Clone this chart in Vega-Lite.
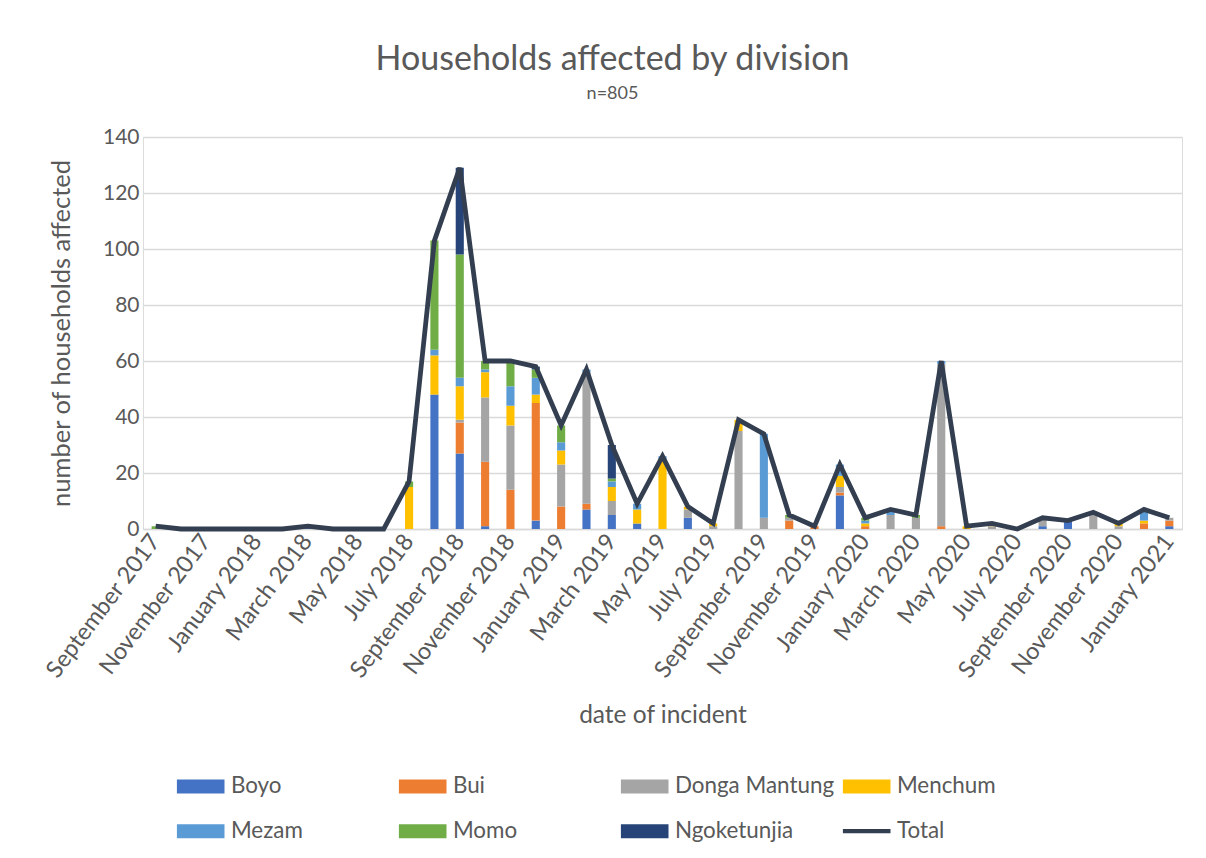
{
  "$schema": "https://vega.github.io/schema/vega-lite/v6.json",
  "width": 1039,
  "height": 392,
  "autosize": {"type": "none"},
  "padding": {"left": 143, "top": 137, "right": 24, "bottom": 329},
  "background": "white",
  "title": {
    "text": "Households affected by division",
    "subtitle": "n=805",
    "anchor": "middle",
    "dx": -50,
    "offset": 23,
    "font": "Lato",
    "fontSize": 34,
    "fontWeight": "normal",
    "color": "#595959",
    "subtitleFont": "Lato",
    "subtitleFontSize": 18,
    "subtitleColor": "#595959",
    "subtitlePadding": 8
  },
  "datasets": {
    "bars": [
      {"month": "September 2017", "division": "Momo", "value": 1},
      {"month": "March 2018", "division": "Boyo", "value": 1},
      {"month": "July 2018", "division": "Menchum", "value": 15},
      {"month": "July 2018", "division": "Momo", "value": 2},
      {"month": "August 2018", "division": "Boyo", "value": 48},
      {"month": "August 2018", "division": "Menchum", "value": 14},
      {"month": "August 2018", "division": "Mezam", "value": 2},
      {"month": "August 2018", "division": "Momo", "value": 39},
      {"month": "September 2018", "division": "Boyo", "value": 27},
      {"month": "September 2018", "division": "Bui", "value": 11},
      {"month": "September 2018", "division": "Donga Mantung", "value": 1},
      {"month": "September 2018", "division": "Menchum", "value": 12},
      {"month": "September 2018", "division": "Mezam", "value": 3},
      {"month": "September 2018", "division": "Momo", "value": 44},
      {"month": "September 2018", "division": "Ngoketunjia", "value": 31},
      {"month": "October 2018", "division": "Boyo", "value": 1},
      {"month": "October 2018", "division": "Bui", "value": 23},
      {"month": "October 2018", "division": "Donga Mantung", "value": 23},
      {"month": "October 2018", "division": "Menchum", "value": 9},
      {"month": "October 2018", "division": "Mezam", "value": 1},
      {"month": "October 2018", "division": "Momo", "value": 3},
      {"month": "November 2018", "division": "Bui", "value": 14},
      {"month": "November 2018", "division": "Donga Mantung", "value": 23},
      {"month": "November 2018", "division": "Menchum", "value": 7},
      {"month": "November 2018", "division": "Mezam", "value": 7},
      {"month": "November 2018", "division": "Momo", "value": 9},
      {"month": "December 2018", "division": "Boyo", "value": 3},
      {"month": "December 2018", "division": "Bui", "value": 42},
      {"month": "December 2018", "division": "Menchum", "value": 3},
      {"month": "December 2018", "division": "Mezam", "value": 6},
      {"month": "December 2018", "division": "Momo", "value": 3},
      {"month": "December 2018", "division": "Ngoketunjia", "value": 1},
      {"month": "January 2019", "division": "Bui", "value": 8},
      {"month": "January 2019", "division": "Donga Mantung", "value": 15},
      {"month": "January 2019", "division": "Menchum", "value": 5},
      {"month": "January 2019", "division": "Mezam", "value": 3},
      {"month": "January 2019", "division": "Momo", "value": 6},
      {"month": "February 2019", "division": "Boyo", "value": 7},
      {"month": "February 2019", "division": "Bui", "value": 2},
      {"month": "February 2019", "division": "Donga Mantung", "value": 47},
      {"month": "February 2019", "division": "Mezam", "value": 1},
      {"month": "March 2019", "division": "Boyo", "value": 5},
      {"month": "March 2019", "division": "Donga Mantung", "value": 5},
      {"month": "March 2019", "division": "Menchum", "value": 5},
      {"month": "March 2019", "division": "Mezam", "value": 2},
      {"month": "March 2019", "division": "Momo", "value": 1},
      {"month": "March 2019", "division": "Ngoketunjia", "value": 12},
      {"month": "April 2019", "division": "Boyo", "value": 2},
      {"month": "April 2019", "division": "Menchum", "value": 5},
      {"month": "April 2019", "division": "Mezam", "value": 2},
      {"month": "May 2019", "division": "Menchum", "value": 25},
      {"month": "May 2019", "division": "Mezam", "value": 1},
      {"month": "June 2019", "division": "Boyo", "value": 4},
      {"month": "June 2019", "division": "Donga Mantung", "value": 3},
      {"month": "June 2019", "division": "Menchum", "value": 1},
      {"month": "July 2019", "division": "Donga Mantung", "value": 1},
      {"month": "July 2019", "division": "Menchum", "value": 1},
      {"month": "August 2019", "division": "Donga Mantung", "value": 35},
      {"month": "August 2019", "division": "Menchum", "value": 4},
      {"month": "September 2019", "division": "Donga Mantung", "value": 4},
      {"month": "September 2019", "division": "Mezam", "value": 30},
      {"month": "October 2019", "division": "Bui", "value": 3},
      {"month": "October 2019", "division": "Donga Mantung", "value": 1},
      {"month": "October 2019", "division": "Momo", "value": 1},
      {"month": "November 2019", "division": "Bui", "value": 1},
      {"month": "December 2019", "division": "Boyo", "value": 12},
      {"month": "December 2019", "division": "Bui", "value": 1},
      {"month": "December 2019", "division": "Donga Mantung", "value": 2},
      {"month": "December 2019", "division": "Menchum", "value": 4},
      {"month": "December 2019", "division": "Mezam", "value": 4},
      {"month": "January 2020", "division": "Bui", "value": 1},
      {"month": "January 2020", "division": "Menchum", "value": 1},
      {"month": "January 2020", "division": "Mezam", "value": 1},
      {"month": "January 2020", "division": "Momo", "value": 1},
      {"month": "February 2020", "division": "Donga Mantung", "value": 5},
      {"month": "February 2020", "division": "Mezam", "value": 2},
      {"month": "March 2020", "division": "Donga Mantung", "value": 4},
      {"month": "March 2020", "division": "Momo", "value": 1},
      {"month": "April 2020", "division": "Bui", "value": 1},
      {"month": "April 2020", "division": "Donga Mantung", "value": 58},
      {"month": "April 2020", "division": "Mezam", "value": 1},
      {"month": "May 2020", "division": "Menchum", "value": 1},
      {"month": "June 2020", "division": "Donga Mantung", "value": 1},
      {"month": "June 2020", "division": "Menchum", "value": 1},
      {"month": "August 2020", "division": "Boyo", "value": 1},
      {"month": "August 2020", "division": "Donga Mantung", "value": 3},
      {"month": "September 2020", "division": "Boyo", "value": 3},
      {"month": "October 2020", "division": "Donga Mantung", "value": 6},
      {"month": "November 2020", "division": "Donga Mantung", "value": 1},
      {"month": "November 2020", "division": "Menchum", "value": 1},
      {"month": "December 2020", "division": "Bui", "value": 2},
      {"month": "December 2020", "division": "Menchum", "value": 1},
      {"month": "December 2020", "division": "Mezam", "value": 4},
      {"month": "January 2021", "division": "Boyo", "value": 1},
      {"month": "January 2021", "division": "Bui", "value": 2},
      {"month": "January 2021", "division": "Donga Mantung", "value": 1}
    ],
    "totals": [
      {"month": "September 2017", "total": 1},
      {"month": "October 2017", "total": 0},
      {"month": "November 2017", "total": 0},
      {"month": "December 2017", "total": 0},
      {"month": "January 2018", "total": 0},
      {"month": "February 2018", "total": 0},
      {"month": "March 2018", "total": 1},
      {"month": "April 2018", "total": 0},
      {"month": "May 2018", "total": 0},
      {"month": "June 2018", "total": 0},
      {"month": "July 2018", "total": 17},
      {"month": "August 2018", "total": 103},
      {"month": "September 2018", "total": 129},
      {"month": "October 2018", "total": 60},
      {"month": "November 2018", "total": 60},
      {"month": "December 2018", "total": 58},
      {"month": "January 2019", "total": 37},
      {"month": "February 2019", "total": 57},
      {"month": "March 2019", "total": 30},
      {"month": "April 2019", "total": 9},
      {"month": "May 2019", "total": 26},
      {"month": "June 2019", "total": 8},
      {"month": "July 2019", "total": 2},
      {"month": "August 2019", "total": 39},
      {"month": "September 2019", "total": 34},
      {"month": "October 2019", "total": 5},
      {"month": "November 2019", "total": 1},
      {"month": "December 2019", "total": 23},
      {"month": "January 2020", "total": 4},
      {"month": "February 2020", "total": 7},
      {"month": "March 2020", "total": 5},
      {"month": "April 2020", "total": 60},
      {"month": "May 2020", "total": 1},
      {"month": "June 2020", "total": 2},
      {"month": "July 2020", "total": 0},
      {"month": "August 2020", "total": 4},
      {"month": "September 2020", "total": 3},
      {"month": "October 2020", "total": 6},
      {"month": "November 2020", "total": 2},
      {"month": "December 2020", "total": 7},
      {"month": "January 2021", "total": 4}
    ]
  },
  "encoding": {
    "x": {
      "field": "month",
      "type": "ordinal",
      "title": "date of incident",
      "scale": {
        "domain": ["September 2017", "October 2017", "November 2017", "December 2017", "January 2018", "February 2018", "March 2018", "April 2018", "May 2018", "June 2018", "July 2018", "August 2018", "September 2018", "October 2018", "November 2018", "December 2018", "January 2019", "February 2019", "March 2019", "April 2019", "May 2019", "June 2019", "July 2019", "August 2019", "September 2019", "October 2019", "November 2019", "December 2019", "January 2020", "February 2020", "March 2020", "April 2020", "May 2020", "June 2020", "July 2020", "August 2020", "September 2020", "October 2020", "November 2020", "December 2020", "January 2021"],
        "paddingInner": 0.68,
        "paddingOuter": 0.34
      },
      "axis": {
        "values": ["September 2017", "November 2017", "January 2018", "March 2018", "May 2018", "July 2018", "September 2018", "November 2018", "January 2019", "March 2019", "May 2019", "July 2019", "September 2019", "November 2019", "January 2020", "March 2020", "May 2020", "July 2020", "September 2020", "November 2020", "January 2021"],
        "labelAngle": -53,
        "labelFont": "Lato",
        "labelFontSize": 23.5,
        "labelLimit": 400,
        "labelColor": "#595959",
        "labelPadding": 8,
        "ticks": false,
        "domain": true,
        "domainColor": "#D9D9D9",
        "domainWidth": 1.5,
        "grid": false,
        "titleFont": "Lato",
        "titleFontSize": 24.5,
        "titleFontWeight": "normal",
        "titleColor": "#595959",
        "titlePadding": 22
      }
    }
  },
  "layer": [
    {
      "data": {"name": "bars"},
      "mark": {"type": "bar"},
      "encoding": {
        "y": {
          "field": "value",
          "type": "quantitative",
          "aggregate": "sum",
          "stack": "zero",
          "title": "number of households affected",
          "scale": {"domain": [0, 140]},
          "axis": {
            "values": [0, 20, 40, 60, 80, 100, 120, 140],
            "grid": true,
            "gridColor": "#D9D9D9",
            "gridWidth": 1.5,
            "domain": false,
            "ticks": false,
            "labelFont": "Lato",
            "labelFontSize": 21,
            "labelColor": "#595959",
            "labelPadding": 4,
            "titleFont": "Lato",
            "titleFontSize": 25.5,
            "titleFontWeight": "normal",
            "titleColor": "#595959",
            "titlePadding": 28
          }
        },
        "color": {
          "field": "division",
          "type": "nominal",
          "scale": {
            "domain": ["Boyo", "Bui", "Donga Mantung", "Menchum", "Mezam", "Momo", "Ngoketunjia", "Total"],
            "range": ["#4472C4", "#ED7D31", "#A5A5A5", "#FFC000", "#5B9BD5", "#70AD47", "#264478", "#333F50"]
          },
          "legend": {
            "title": null,
            "orient": "none",
            "legendX": 31,
            "legendY": 638,
            "direction": "horizontal",
            "columns": 4,
            "gridAlign": "all",
            "columnPadding": 5,
            "rowPadding": 22,
            "labelFont": "Lato",
            "labelFontSize": 22.4,
            "labelColor": "#595959",
            "symbolSize": 196,
            "symbolStrokeWidth": 0,
            "symbolOffset": 15.5,
            "labelOffset": 19,
            "labelLimit": 400,
            "encode": {
              "symbols": {
                "update": {
                  "shape": {"signal": "datum.value === 'Total' ? 'M-3.4,-0.3H3.4V0.3H-3.4Z' : 'M-3.4,-1H3.4V1H-3.4Z'"},
                  "fill": {"scale": "color", "field": "value"},
                  "stroke": {"value": "transparent"},
                  "strokeWidth": {"value": 0},
                  "opacity": {"value": 1}
                }
              }
            }
          }
        },
        "order": {"field": "division", "sort": "ascending"}
      }
    },
    {
      "data": {"name": "totals"},
      "mark": {"type": "line", "strokeWidth": 4.8, "strokeJoin": "miter"},
      "encoding": {
        "y": {"field": "total", "type": "quantitative"},
        "color": {"datum": "Total"}
      }
    }
  ]
}
